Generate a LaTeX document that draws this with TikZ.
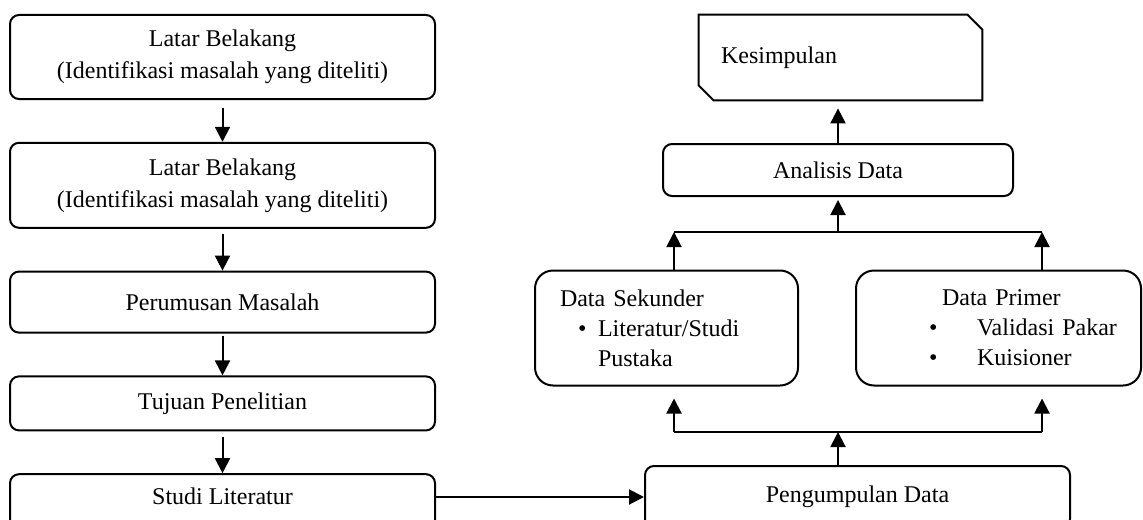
\documentclass[tikz,border=0pt]{standalone}
\usepackage{fontspec}
\setmainfont{Liberation Serif}
\usetikzlibrary{arrows.meta,positioning}

\begin{document}
\begin{tikzpicture}[
    x=0.5pt, y=-0.5pt,
    node distance=20.9pt,
    box/.style={draw, line width=1pt, rounded corners=4.5pt, minimum width=212.5pt, align=center, inner sep=2pt, font=\fontsize{12}{16}\selectfont},
    databox/.style={draw, line width=1pt, rounded corners=9pt, minimum height=57.5pt, align=left, inner xsep=5pt, font=\fontsize{12}{15}\selectfont},
    arr/.style={-{Triangle[length=7.5pt, width=7.5pt]}, line width=1pt}
]
\useasboundingbox (0,0) rectangle (1143,519);

% alur kiri
\node[box, minimum height=42pt] (latar1) at (222.5,57) {Latar Belakang\\(Identifikasi masalah yang diteliti)};
\node[box, minimum height=42.5pt, below=of latar1] (latar2) {Latar Belakang\\(Identifikasi masalah yang diteliti)};
\node[box, minimum height=30.5pt, below=of latar2] (rumusan) {Perumusan Masalah};
\node[box, minimum height=27pt, below=of rumusan] (tujuan) {Tujuan Penelitian};
\node[box, minimum height=30pt, text depth=8.5pt, below=of tujuan] (studi) {Studi Literatur};

% alur kanan
\node[box, minimum height=31pt] (kumpul) at (857.5,497) {Pengumpulan Data};
\node[databox, text width=121.5pt] (sekunder) at (666.5,328) {\hspace*{7.5pt}Data Sekunder\\
    \hspace*{16.5pt}\textbullet\hspace{5.8pt}Literatur/Studi\\
    \hspace*{26.5pt}Pustaka};
\node[databox, text width=132.5pt] (primer) at (998.5,328) {\hspace*{38pt}Data Primer\\
    \hspace*{31.5pt}\textbullet\hspace{19.8pt}Validasi Pakar\\
    \hspace*{31.5pt}\textbullet\hspace{19.8pt}Kuisioner};
\node[box, minimum width=175pt, minimum height=26pt] (analisis) at (838,170) {Analisis Data};
\node[minimum width=141.5pt, minimum height=42.5pt, text width=119.5pt, inner xsep=11pt, align=left, font=\fontsize{12}{16}\selectfont] (simpul) at (840.5,57.5) {Kesimpulan};
\draw[line width=1pt] (simpul.north west) -- ([xshift=-7.5pt]simpul.north east) -- ([yshift=-7.5pt]simpul.north east)
    -- (simpul.south east) -- ([xshift=7.5pt]simpul.south west) -- ([yshift=7.5pt]simpul.south west) -- cycle;

\coordinate (atas-kiri) at (674,232);
\coordinate (atas-tengah) at (838,232);
\coordinate (atas-kanan) at (1042,232);
\coordinate (bawah-kiri) at (674,432);
\coordinate (bawah-tengah) at (838,432);
\coordinate (bawah-kanan) at (1042,432);

\draw[arr, shorten <=4pt] (latar1) -- (latar2);
\draw[arr, shorten <=2.5pt] (latar2) -- (rumusan);
\draw[arr, shorten <=1pt] (rumusan) -- (tujuan);
\draw[arr, shorten <=3pt] (tujuan) -- (studi);
\draw[arr] (studi.east |- kumpul.west) -- (kumpul.west);

\draw[line width=1pt] (bawah-kiri) -- (bawah-kanan);
\draw[arr] (bawah-tengah |- kumpul.north) -- (bawah-tengah);
\draw[arr, shorten >=6pt] (bawah-kiri) -- (bawah-kiri |- sekunder.south);
\draw[arr, shorten >=6pt] (bawah-kanan) -- (bawah-kanan |- primer.south);

\draw[line width=1pt] (atas-kiri) -- (atas-kanan);
\draw[arr] (atas-kiri |- sekunder.north) -- (atas-kiri);
\draw[arr] (atas-kanan |- primer.north) -- (atas-kanan);
\draw[arr, shorten >=1.5pt] (atas-tengah) -- (atas-tengah |- analisis.south);
\draw[arr, shorten >=4pt] (analisis.north) -- (analisis.north |- simpul.south);
\end{tikzpicture}
\end{document}
